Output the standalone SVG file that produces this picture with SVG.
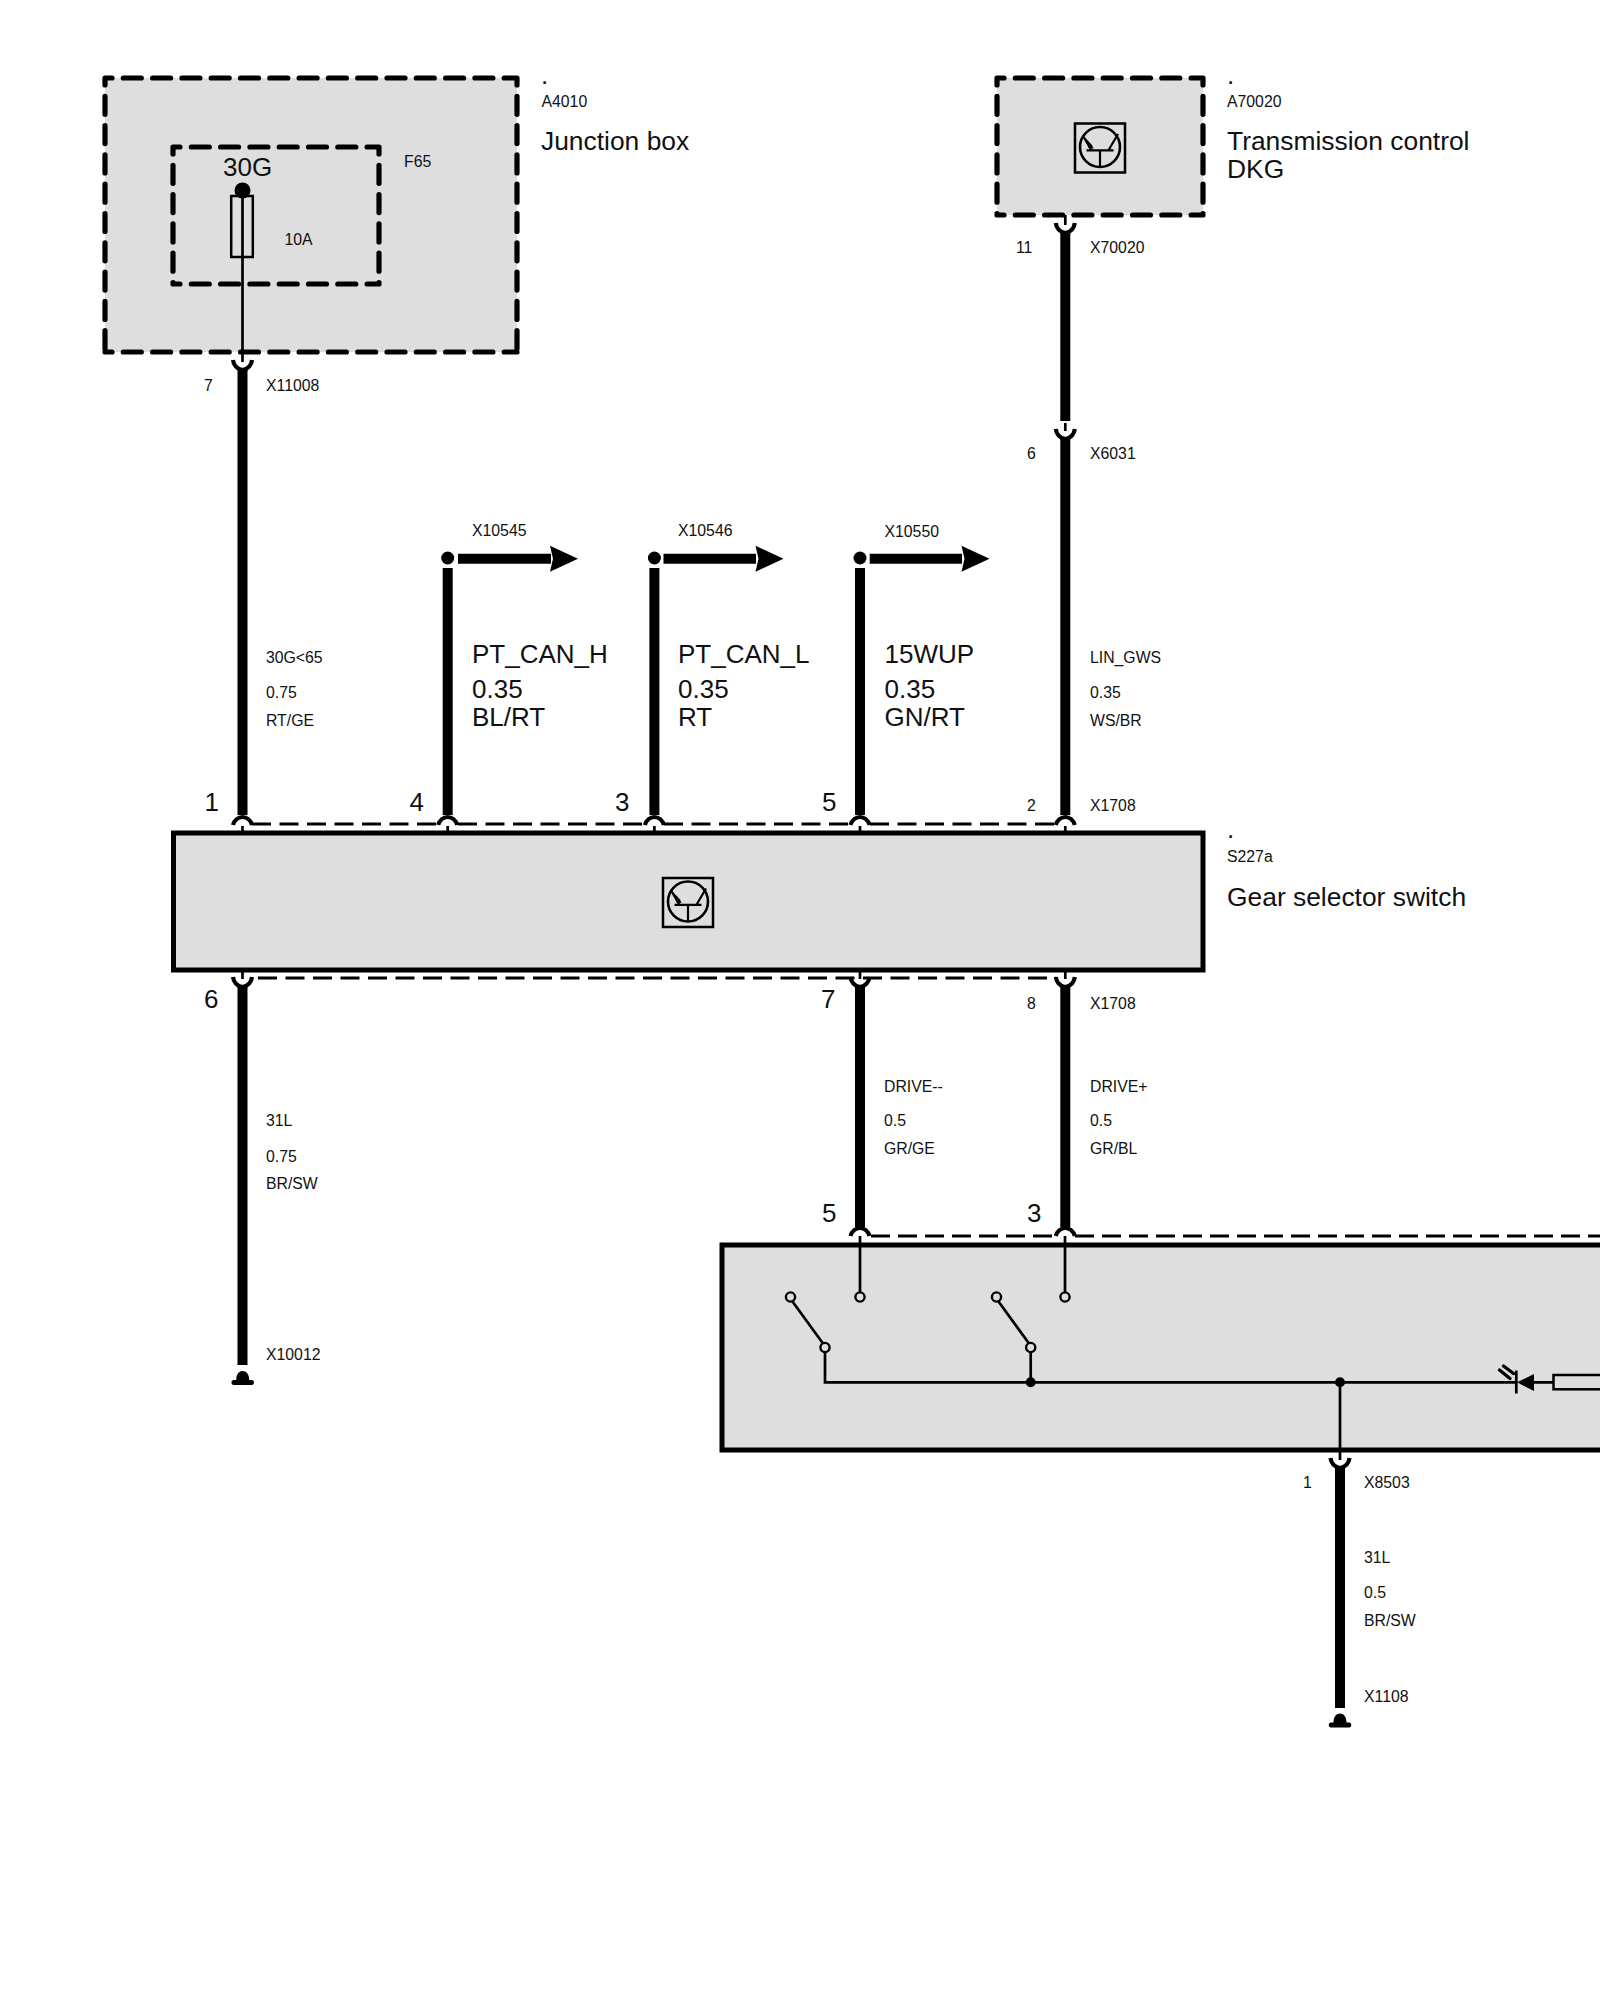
<svg xmlns="http://www.w3.org/2000/svg" xmlns:xlink="http://www.w3.org/1999/xlink" width="1600" height="2000" viewBox="0 0 1600 2000">
<style>
text{font-family:"Liberation Sans",Arial,sans-serif;fill:#111}
.s{font-size:15.8px}
.l{font-size:26px}
.t{font-size:26.4px}
.box{fill:#dedede;stroke:#000;stroke-width:5}
.fill{fill:#dedede}
.dash{fill:none;stroke:#000;stroke-width:5.2;stroke-linecap:round;stroke-dasharray:18 11.3;stroke-dashoffset:11}
.wire{stroke:#000;stroke-width:10;fill:none}
.thin{stroke:#000;stroke-width:2.7;fill:none}
.tdash{stroke:#000;stroke-width:3;fill:none;stroke-dasharray:19 8.5}
.arc{stroke:#000;stroke-width:4.2;fill:none}
.pin{fill:#dedede;stroke:#000;stroke-width:2.4}
.ink{fill:#000}
</style>
<defs>
<g id="fork"><path class="arc" d="M-9.5 0C-9 5-5.5 9 0 10C5.5 9 9 5 9.5 0"/></g>
<g id="arch"><path class="arc" d="M-9.5 8C-8 3-4 0 0 0C4 0 8 3 9.5 8"/></g>
<g id="gnd"><path class="ink" d="M-6.5 9C-6.5 3-3.5 0 0 0C3.5 0 6.5 3 6.5 9L9 9C12 9 12 14 9 14L-9 14C-12 14-12 9-9 9Z"/></g>
<g id="ecu">
<rect x="-25" y="-23.5" width="50" height="49" fill="none" stroke="#000" stroke-width="2.5"/>
<circle cx="0" cy="0" r="20" fill="none" stroke="#000" stroke-width="2.6"/>
<path d="M-13.5 3.3H13.5M0 3.3V19M8.5 3.3L18 -13M-8.5 3.3L-17 -11" fill="none" stroke="#000" stroke-width="2.2"/>
<path class="ink" d="M-15.5 -10L-8 -2L-6.5 1.5L-11.5 1Z"/>
</g>
<g id="head"><path class="ink" d="M0 -13L28 0L0 13L3 0Z"/></g>
</defs>

<g id="A4010">
<rect x="105" y="78" width="412" height="274" class="fill"/>
<path class="dash" d="M105 78H517M105 352H517M105 78V352M517 78V352"/>
<text class="l" x="541" y="84">.</text>
<text class="s" x="541.5" y="107">A4010</text>
<text class="t" x="541" y="150">Junction box</text>
</g>
<g id="F65">
<path class="dash" d="M173 147H379M173 284H379M173 147V284M379 147V284"/>
<rect x="231.2" y="196" width="21.6" height="61" fill="none" stroke="#000" stroke-width="2.5"/>
<circle cx="242.5" cy="190.5" r="8" class="ink"/>
<text class="l" x="223" y="175.5">30G</text>
<text class="s" x="284.5" y="245">10A</text>
<text class="s" x="404" y="166.5">F65</text>
</g>
<g id="A70020">
<rect x="997" y="78" width="206" height="137" class="fill"/>
<path class="dash" d="M997 78H1203M997 215H1203M997 78V215M1203 78V215"/>
<use href="#ecu" x="1100" y="147"/>
<text class="l" x="1227" y="84">.</text>
<text class="s" x="1227" y="107">A70020</text>
<text class="t" x="1227" y="150">Transmission control</text>
<text class="t" x="1227" y="177.5">DKG</text>
</g>
<g id="S227a">
<rect x="173.5" y="833" width="1029.5" height="137" class="box"/>
<use href="#ecu" x="688" y="901.5"/>
<text class="l" x="1227" y="838">.</text>
<text class="s" x="1227" y="861.5">S227a</text>
<text class="t" x="1227" y="905.5">Gear selector switch</text>
</g>
<g id="S8503">
<rect x="722" y="1245" width="900" height="205" class="box"/>
<path class="thin" d="M860 1236V1292M1065 1236V1292M825 1352V1382.3H1516M1030.7 1352V1382.3M1340 1382.3V1460"/>
<path class="thin" d="M792.5 1301.5L823 1343.5M998.5 1301.5L1029 1343.5"/>
<circle class="pin" cx="790.5" cy="1297" r="4.6"/>
<circle class="pin" cx="860" cy="1297" r="4.6"/>
<circle class="pin" cx="825" cy="1347.5" r="4.6"/>
<circle class="pin" cx="996.5" cy="1297" r="4.6"/>
<circle class="pin" cx="1065" cy="1297" r="4.6"/>
<circle class="pin" cx="1030.7" cy="1347.5" r="4.6"/>
<circle class="ink" cx="1030.7" cy="1382.3" r="5"/>
<circle class="ink" cx="1340" cy="1382.3" r="5"/>
<path class="thin" d="M1516.3 1370.5V1393.5M1534 1382.3H1553"/>
<path class="ink" d="M1517 1382.3L1534 1374V1391Z"/>
<rect x="1553.5" y="1375" width="60" height="14.3" fill="none" stroke="#000" stroke-width="2.5"/>
<path d="M1499.5 1370L1510 1378.5M1503.5 1366L1513.5 1373.5" fill="none" stroke="#000" stroke-width="3.4" stroke-linecap="round"/>
</g>

<g id="connectors">
<path class="thin" d="M242.5 190V362"/>
<use href="#fork" x="242.5" y="360"/>
<path class="wire" d="M242.5 369V815"/>
<use href="#arch" x="242.5" y="817"/>
<path class="thin" d="M242.5 826V833"/>

<circle class="ink" cx="447.7" cy="558" r="6.5"/>
<path class="wire" d="M447.7 568V815M458 558.7H551"/>
<use href="#head" x="550" y="558.7"/>
<use href="#arch" x="447.7" y="817"/>
<path class="thin" d="M447.7 826V833"/>

<circle class="ink" cx="654.4" cy="558" r="6.5"/>
<path class="wire" d="M654.4 568V815M663.5 558.7H756"/>
<use href="#head" x="755.5" y="558.7"/>
<use href="#arch" x="654.4" y="817"/>
<path class="thin" d="M654.4 826V833"/>

<circle class="ink" cx="860" cy="558" r="6.5"/>
<path class="wire" d="M860 568V815M869.7 558.7H962"/>
<use href="#head" x="961.5" y="558.7"/>
<use href="#arch" x="860" y="817"/>
<path class="thin" d="M860 826V833"/>

<path class="thin" d="M1065.3 215V225"/>
<use href="#fork" x="1065.3" y="223"/>
<path class="wire" d="M1065.3 232V421"/>
<path class="thin" d="M1065.3 423V431"/>
<use href="#fork" x="1065.3" y="429"/>
<path class="wire" d="M1065.3 438V815"/>
<use href="#arch" x="1065.3" y="817"/>
<path class="thin" d="M1065.3 826V833"/>

<path class="tdash" d="M252 824H438M458 824H644M664 824H850M870 824H1056"/>
<path class="tdash" d="M258 978H1056"/>

<path class="thin" d="M242.5 970V979M860 970V979M1065.3 970V979"/>
<use href="#fork" x="242.5" y="977"/>
<use href="#fork" x="860" y="977"/>
<use href="#fork" x="1065.3" y="977"/>
<path class="wire" d="M242.5 986V1365M860 986V1227M1065.3 986V1227"/>
<use href="#gnd" x="242.7" y="1371"/>
<use href="#arch" x="860" y="1228"/>
<use href="#arch" x="1065.3" y="1228"/>
<path class="tdash" d="M871 1236H1056M1075 1236H1600" style="stroke-width:3.2;stroke-dasharray:19 8"/>

<use href="#fork" x="1340" y="1458"/>
<path class="wire" d="M1340 1467V1708"/>
<use href="#gnd" x="1340" y="1713.5"/>
</g>

<g id="labels">
<text class="s" x="204" y="391">7</text>
<text class="s" x="266" y="391">X11008</text>
<text class="s" x="1016" y="253">11</text>
<text class="s" x="1090" y="253">X70020</text>
<text class="s" x="1027" y="459">6</text>
<text class="s" x="1090" y="459">X6031</text>
<text class="s" x="472" y="536">X10545</text>
<text class="s" x="678" y="536">X10546</text>
<text class="s" x="884.5" y="537">X10550</text>

<text class="s" x="266" y="663">30G&lt;65</text>
<text class="s" x="266" y="698">0.75</text>
<text class="s" x="266" y="725.5">RT/GE</text>

<text class="l" x="472" y="662.5">PT_CAN_H</text>
<text class="l" x="472" y="698">0.35</text>
<text class="l" x="472" y="725.5">BL/RT</text>
<text class="l" x="678" y="662.5">PT_CAN_L</text>
<text class="l" x="678" y="698">0.35</text>
<text class="l" x="678" y="725.5">RT</text>
<text class="l" x="884.5" y="662.5">15WUP</text>
<text class="l" x="884.5" y="698">0.35</text>
<text class="l" x="884.5" y="725.5">GN/RT</text>

<text class="s" x="1090" y="663">LIN_GWS</text>
<text class="s" x="1090" y="698">0.35</text>
<text class="s" x="1090" y="725.5">WS/BR</text>

<text class="l" x="204.5" y="810.5">1</text>
<text class="l" x="409.5" y="810.5">4</text>
<text class="l" x="615" y="810.5">3</text>
<text class="l" x="822" y="810.5">5</text>
<text class="s" x="1027" y="811">2</text>
<text class="s" x="1090" y="811">X1708</text>

<text class="l" x="204" y="1008">6</text>
<text class="l" x="821" y="1008">7</text>
<text class="s" x="1027" y="1008.5">8</text>
<text class="s" x="1090" y="1008.5">X1708</text>

<text class="s" x="266" y="1126">31L</text>
<text class="s" x="266" y="1161.5">0.75</text>
<text class="s" x="266" y="1188.5">BR/SW</text>
<text class="s" x="884" y="1092">DRIVE--</text>
<text class="s" x="884" y="1126">0.5</text>
<text class="s" x="884" y="1154">GR/GE</text>
<text class="s" x="1090" y="1092">DRIVE+</text>
<text class="s" x="1090" y="1126">0.5</text>
<text class="s" x="1090" y="1154">GR/BL</text>
<text class="s" x="266" y="1360">X10012</text>

<text class="l" x="822" y="1222">5</text>
<text class="l" x="1027" y="1222">3</text>

<text class="s" x="1303" y="1488">1</text>
<text class="s" x="1364" y="1488">X8503</text>
<text class="s" x="1364" y="1563">31L</text>
<text class="s" x="1364" y="1598">0.5</text>
<text class="s" x="1364" y="1626">BR/SW</text>
<text class="s" x="1364" y="1702">X1108</text>
</g>
</svg>
